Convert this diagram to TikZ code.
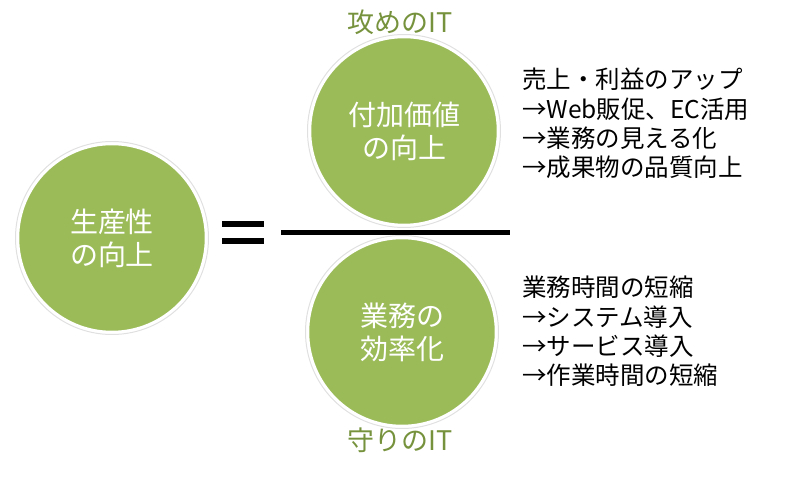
\documentclass[tikz,border=0pt]{standalone}
\usepackage{fontspec}
\setmainfont{Noto Sans CJK JP}
\usetikzlibrary{positioning,calc}
\definecolor{Leaf}{RGB}{155,187,89}
\definecolor{Moss}{RGB}{118,146,60}
\definecolor{Ink}{RGB}{0,0,0}

\begin{document}
\begin{tikzpicture}[x=1pt,y=-1pt,
  circ/.style={circle,fill=Leaf,draw=white,line width=2.5pt,minimum size=188pt,inner sep=0pt,
    text=white,align=center,font=\fontsize{28}{33}\selectfont},
  ring/.style={circle,draw=black!12,line width=1pt,minimum size=193pt,inner sep=0pt},
  itlabel/.style={text=Moss,font=\fontsize{27}{30}\selectfont},
  note/.style={anchor=north west,align=left,inner sep=0pt,font=\fontsize{24.5}{29.2}\selectfont},
  bar/.style={line width=5pt,Ink}]
\useasboundingbox (0,0) rectangle (812,478);
% circles
\node[ring] (prodr) at (112,238) {};
\node[circ] (prod) at (112,238) {生産性\\の向上};
\node[ring] (valr) at (404,131) {};
\node[circ] (val) at (404,131) {付加価値\\の向上};
\node[ring] (effr) at (402,332) {};
\node[circ] (eff) at (402,332) {業務の\\効率化};
% labels
\node[itlabel] (attack) at (400,22) {攻めのIT};
\node[itlabel] (guard) at (400,440) {守りのIT};
% equals sign and fraction bar
\coordinate (eqa) at (222,224);
\coordinate (eqb) at (264,224);
\coordinate (eqc) at (222,241);
\coordinate (eqd) at (264,241);
\draw[line width=6pt] (eqa)--(eqb);
\draw[line width=6pt] (eqc)--(eqd);
\coordinate (fl) at (281,233);
\coordinate (fr) at (510,233);
\draw[bar] (fl)--(fr);
% notes
\node[note] (upnote) at (522,68) {売上・利益のアップ\\→Web販促、EC活用\\→業務の見える化\\→成果物の品質向上};
\node[note] (downnote) at (522,276) {業務時間の短縮\\→システム導入\\→サービス導入\\→作業時間の短縮};
\end{tikzpicture}
\end{document}
